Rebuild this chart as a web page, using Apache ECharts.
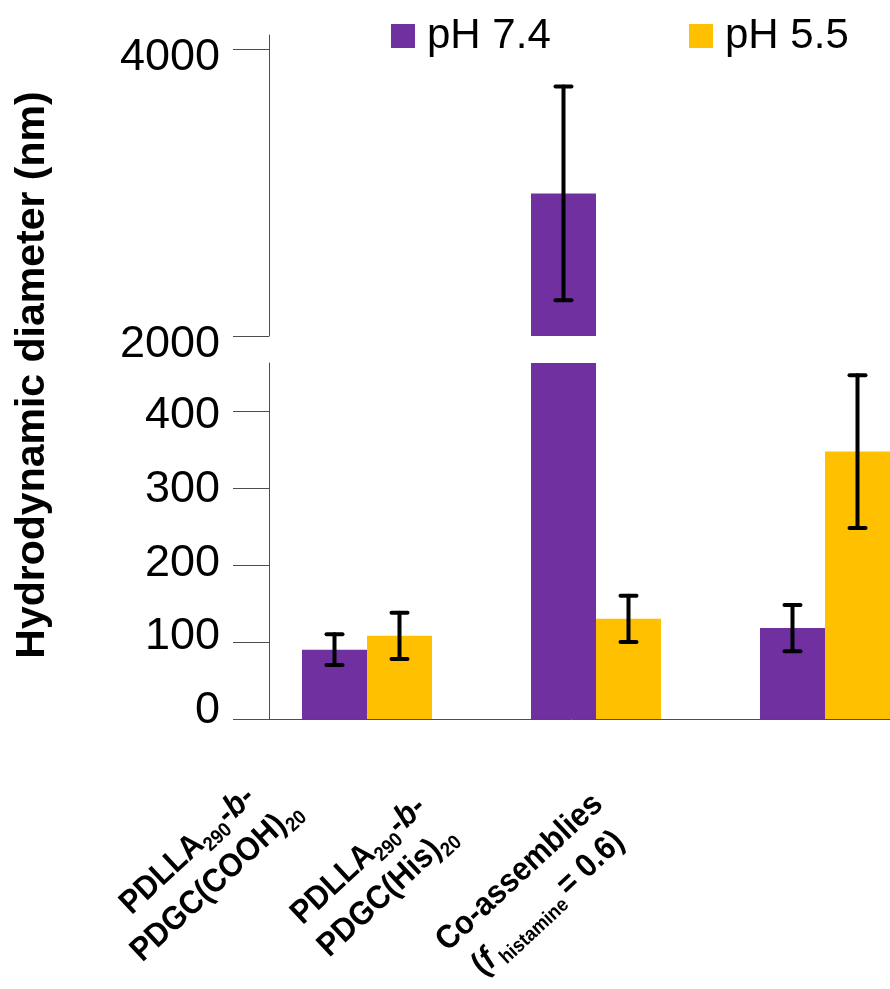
<!DOCTYPE html>
<html>
<head>
<meta charset="utf-8">
<style>
  html, body { margin: 0; padding: 0; background: #ffffff; }
  #chart { width: 890px; height: 989px; }
</style>
<script src="https://cdn.jsdelivr.net/npm/echarts@6/dist/echarts.min.js"></script>
</head>
<body>
<div id="chart"></div>
<script>
// Hydrodynamic diameter of the assemblies at two pH values (mean ± SD, nm)
const categories = [
  '{n|PDLLA}{s|290}{n|-}{i|b}{n|-}\n{n|PDGC(COOH)}{s|20}',
  '{n|PDLLA}{s|290}{n|-}{i|b}{n|-}\n{n|PDGC(His)}{s|20}',
  '{n|Co-assemblies}\n{n|(}{i|f}{s| histamine }{n|= 0.6)}'
];
const seriesNames = ['pH 7.4', 'pH 5.5'];
const ph74 = [90, 2995, 118];
const ph74Err = [20, 745, 30];
const ph55 = [108, 130, 347];
const ph55Err = [30, 30, 99];

// broken value axis: lower panel and upper panel
const lowerRange = [0, 462];
const upperRange = [2000, 4100];
const lowerTicks = [0, 100, 200, 300, 400];
const upperTicks = [2000, 4000];

const FONT = '"Liberation Sans", Arial, Helvetica, sans-serif';
const PURPLE = '#7030A0';
const YELLOW = '#FFC000';
const AXIS_COLOR = '#4d4d4d';
const BAR_W = 65;

const chart = echarts.init(document.getElementById('chart'), null, { renderer: 'canvas' });

const gridLeft = 252.5, gridRight = -49.5;

// per-tick vertical nudge of the tick labels (px, positive = down)
function labelRichFor(ticks, nudges) {
  const rich = {};
  ticks.forEach((t, i) => {
    const d = nudges[i];
    rich['t' + i] = {
      fontSize: 45, fontFamily: FONT, color: '#000',
      padding: d >= 0 ? [2 * d, 0, 0, 0] : [0, 0, -2 * d, 0]
    };
  });
  return rich;
}

function yAxisFor(gridIndex, range, ticks, nudges) {
  return {
    type: 'value',
    gridIndex: gridIndex,
    min: range[0],
    max: range[1],
    offset: -16.5,
    splitLine: { show: false },
    axisLine: { show: true, lineStyle: { color: AXIS_COLOR, width: 1 } },
    axisTick: { show: true, length: 36, customValues: ticks, lineStyle: { color: AXIS_COLOR, width: 1 } },
    axisLabel: {
      show: true, customValues: ticks, margin: 49,
      fontSize: 45, fontFamily: FONT, color: '#000',
      formatter: function (v) {
        const i = ticks.indexOf(v);
        return '{t' + i + '|' + String(v) + '}';
      },
      rich: labelRichFor(ticks, nudges)
    }
  };
}

function errData(vals, errs) {
  return vals.map((v, i) => [i, v - errs[i], v + errs[i]]);
}

function errorSeries(name, vals, errs, sign, axisIndex) {
  return {
    type: 'custom',
    name: name,
    xAxisIndex: axisIndex,
    yAxisIndex: axisIndex,
    clip: true,
    z: 10,
    silent: true,
    data: errData(vals, errs),
    renderItem: function (params, api) {
      const cat = api.value(0);
      const lo = api.coord([cat, api.value(1)]);
      const hi = api.coord([cat, api.value(2)]);
      const x = lo[0] + sign * BAR_W / 2;
      const capW = 8;
      const style = { stroke: '#000', lineWidth: 4, lineCap: 'round' };
      return {
        type: 'group',
        children: [
          { type: 'line', shape: { x1: x, y1: lo[1], x2: x, y2: hi[1] }, style: style },
          { type: 'line', shape: { x1: x - capW, y1: lo[1], x2: x + capW, y2: lo[1] }, style: style },
          { type: 'line', shape: { x1: x - capW, y1: hi[1], x2: x + capW, y2: hi[1] }, style: style }
        ]
      };
    }
  };
}

function barSeries(name, data, color, axisIndex) {
  return {
    type: 'bar',
    name: name,
    xAxisIndex: axisIndex,
    yAxisIndex: axisIndex,
    data: data,
    barWidth: BAR_W,
    barGap: '0%',
    clip: true,
    itemStyle: { color: color },
    emphasis: { disabled: true }
  };
}

const above = v => (v > upperRange[0] ? v : '-');

// category labels: bold text with sub/italic runs
const labelRich = {
  n: { fontSize: 33, fontWeight: 'bold', fontFamily: FONT, lineHeight: 42, color: '#000' },
  i: { fontSize: 33, fontWeight: 'bold', fontStyle: 'italic', fontFamily: FONT, lineHeight: 42, color: '#000' },
  s: { fontSize: 20, fontWeight: 'bold', fontFamily: FONT, lineHeight: 20, verticalAlign: 'bottom', color: '#000' }
};

const labelCenters = [[202, 866], [373, 876], [534, 888]];
const labelRotation = 43 * Math.PI / 180;

function legendFor(name, left) {
  return {
    left: left, top: 15, padding: 0,
    icon: 'rect', itemWidth: 24, itemHeight: 24,
    data: [name],
    textStyle: { fontSize: 42, fontFamily: FONT, color: '#000', padding: [0, 0, 0, 7] },
    selectedMode: false
  };
}

const option = {
  backgroundColor: '#ffffff',
  animation: false,
  legend: [legendFor(seriesNames[0], 391), legendFor(seriesNames[1], 689)],
  grid: [
    { left: gridLeft, right: gridRight, top: 35, height: 301, containLabel: false, outerBoundsMode: 'none' },
    { left: gridLeft, right: gridRight, top: 363, height: 356, containLabel: false, outerBoundsMode: 'none' }
  ],
  xAxis: [
    { type: 'category', gridIndex: 0, data: categories, show: false },
    {
      type: 'category', gridIndex: 1, data: categories,
      axisLine: { show: true, lineStyle: { color: AXIS_COLOR, width: 1 } },
      axisTick: { show: false },
      axisLabel: { show: false }
    }
  ],
  yAxis: [
    yAxisFor(0, upperRange, upperTicks, [8.5, 8]),
    yAxisFor(1, lowerRange, lowerTicks, [-8, -5, -1, 1.5, 5])
  ],
  series: [
    barSeries(seriesNames[0], ph74.map(above), PURPLE, 0),
    barSeries(seriesNames[1], ph55.map(above), YELLOW, 0),
    barSeries(seriesNames[0], ph74, PURPLE, 1),
    barSeries(seriesNames[1], ph55, YELLOW, 1),
    errorSeries(seriesNames[0], ph74, ph74Err, -1, 0),
    errorSeries(seriesNames[1], ph55, ph55Err, 1, 0),
    errorSeries(seriesNames[0], ph74, ph74Err, -1, 1),
    errorSeries(seriesNames[1], ph55, ph55Err, 1, 1)
  ],
  graphic: [
    {
      type: 'text',
      x: 33, y: 375,
      rotation: Math.PI / 2,
      style: {
        text: 'Hydrodynamic diameter (nm)',
        fontSize: 41, fontWeight: 'bold', fontFamily: FONT,
        fill: '#000', align: 'center', verticalAlign: 'middle'
      }
    }
  ].concat(categories.map((c, i) => ({
    type: 'text',
    x: labelCenters[i][0], y: labelCenters[i][1],
    rotation: labelRotation,
    scaleX: 0.92,
    style: {
      text: c, rich: labelRich,
      align: 'center', verticalAlign: 'middle', fill: '#000'
    }
  })))
};

chart.setOption(option);
</script>
</body>
</html>
